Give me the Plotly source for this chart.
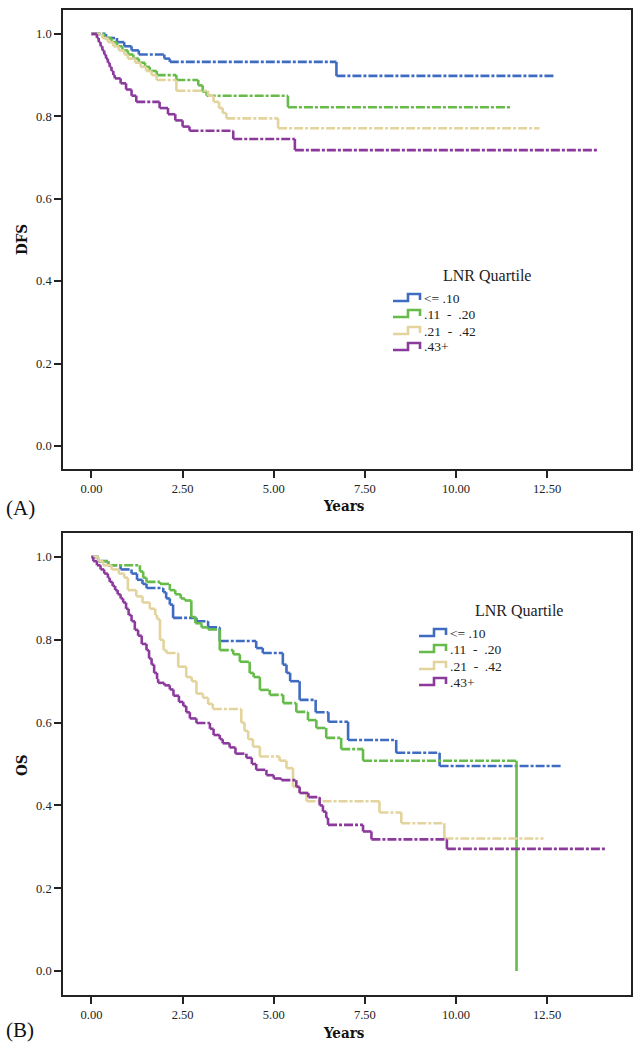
import plotly.graph_objects as go

# ---- Survival step data (time in years, survival probability) ----
groups = ["<= .10", ".11 - .20", ".21 - .42", ".43+"]
group_labels = ["<=\u00a0.10", ".11\u00a0\u00a0-\u00a0\u00a0.20", ".21\u00a0\u00a0-\u00a0\u00a0.42", ".43+"]
colors = ["#3f6cc0", "#66bb4a", "#e3d39c", "#8b3a9c"]

# Disease-free survival
dfs_blue_t = [0, 0.4, 0.7, 0.9, 1.1, 1.3, 2.0, 2.15, 6.72, 12.7]
dfs_blue_s = [1.0, 0.99, 0.98, 0.97, 0.96, 0.95, 0.94, 0.932, 0.898, 0.898]

dfs_green_t = [0, 0.35, 0.55, 0.7, 0.85, 1.0, 1.15, 1.3, 1.47, 1.6, 1.79, 2.33, 2.93, 3.05, 3.16, 5.39, 11.5]
dfs_green_s = [1.0, 0.99, 0.98, 0.97, 0.96, 0.95, 0.94, 0.93, 0.92, 0.91, 0.90, 0.888, 0.875, 0.86, 0.85, 0.822, 0.822]

dfs_tan_t = [0, 0.3, 0.45, 0.6, 0.75, 0.9, 1.0, 1.2, 1.35, 1.5, 1.65, 1.79, 2.33, 3.2, 3.35, 3.5, 3.6, 3.7, 5.12, 12.29]
dfs_tan_s = [1.0, 0.99, 0.98, 0.97, 0.96, 0.95, 0.94, 0.93, 0.92, 0.91, 0.90, 0.888, 0.862, 0.85, 0.835, 0.82, 0.808, 0.795, 0.771, 0.771]

dfs_purple_t = [0, 0.15, 0.2, 0.25, 0.3, 0.35, 0.4, 0.45, 0.5, 0.55, 0.6, 0.64, 0.8, 0.95, 1.1, 1.23, 1.87, 2.1, 2.3, 2.5, 2.69, 3.89, 5.58, 13.88]
dfs_purple_s = [1.0, 0.99, 0.98, 0.97, 0.96, 0.95, 0.94, 0.93, 0.92, 0.91, 0.90, 0.892, 0.88, 0.865, 0.85, 0.835, 0.82, 0.805, 0.79, 0.775, 0.765, 0.745, 0.718, 0.718]

# Overall survival
os_blue_t = [0, 0.2, 0.46, 0.8, 1.1, 1.25, 1.4, 1.51, 1.97, 2.05, 2.15, 2.24, 2.88, 3.2, 3.52, 4.52, 4.7, 5.25, 5.35, 5.45, 5.71, 6.15, 6.5, 7.04, 8.36, 9.55, 12.9]
os_blue_s = [1.0, 0.99, 0.98, 0.97, 0.96, 0.945, 0.935, 0.925, 0.915, 0.9, 0.885, 0.853, 0.845, 0.83, 0.797, 0.78, 0.768, 0.74, 0.72, 0.70, 0.655, 0.625, 0.602, 0.558, 0.527, 0.495, 0.495]

os_green_t = [0, 0.2, 0.46, 1.33, 1.42, 1.51, 1.88, 2.15, 2.3, 2.45, 2.56, 2.74, 2.85, 3.02, 3.2, 3.52, 3.89, 4.07, 4.34, 4.45, 4.62, 4.89, 5.26, 5.62, 5.94, 6.17, 6.44, 6.85, 7.45, 11.66, 11.66]
os_green_s = [1.0, 0.99, 0.98, 0.965, 0.95, 0.94, 0.935, 0.92, 0.91, 0.90, 0.895, 0.855, 0.84, 0.83, 0.825, 0.775, 0.765, 0.747, 0.72, 0.71, 0.679, 0.667, 0.647, 0.626, 0.606, 0.587, 0.563, 0.536, 0.508, 0.508, 0.0]

os_tan_t = [0, 0.2, 0.32, 0.55, 0.75, 0.9, 1.0, 1.23, 1.4, 1.6, 1.75, 1.8, 1.88, 1.98, 2.06, 2.38, 2.6, 2.75, 2.88, 3.06, 3.2, 3.33, 4.11, 4.2, 4.3, 4.43, 4.62, 5.16, 5.35, 5.53, 5.71, 5.9, 7.9, 8.5, 9.68, 12.4]
os_tan_s = [1.0, 0.99, 0.98, 0.97, 0.96, 0.95, 0.92, 0.905, 0.89, 0.875, 0.86, 0.85, 0.80, 0.775, 0.768, 0.735, 0.71, 0.70, 0.67, 0.66, 0.645, 0.633, 0.60, 0.58, 0.56, 0.542, 0.518, 0.508, 0.49, 0.445, 0.43, 0.41, 0.383, 0.357, 0.32, 0.32]

os_purple_t = [0, 0.05, 0.15, 0.25, 0.35, 0.45, 0.5, 0.58, 0.65, 0.72, 0.8, 0.87, 0.95, 1.02, 1.1, 1.19, 1.28, 1.38, 1.51, 1.58, 1.65, 1.72, 1.8, 1.83, 2.0, 2.15, 2.25, 2.4, 2.52, 2.6, 2.7, 2.88, 3.25, 3.35, 3.52, 3.6, 3.79, 3.95, 4.25, 4.4, 4.52, 4.8, 5.0, 5.21, 5.62, 5.71, 5.95, 6.26, 6.35, 6.44, 6.49, 7.45, 7.68, 9.75, 14.1]
os_purple_s = [1.0, 0.99, 0.98, 0.97, 0.96, 0.95, 0.94, 0.93, 0.92, 0.91, 0.90, 0.89, 0.875, 0.86, 0.845, 0.824, 0.81, 0.79, 0.775, 0.755, 0.74, 0.72, 0.705, 0.696, 0.69, 0.68, 0.665, 0.65, 0.64, 0.625, 0.61, 0.599, 0.585, 0.57, 0.56, 0.55, 0.54, 0.525, 0.515, 0.50, 0.486, 0.473, 0.465, 0.461, 0.445, 0.43, 0.42, 0.40, 0.385, 0.37, 0.353, 0.337, 0.318, 0.295, 0.295]

x_ticks = [0, 2.5, 5, 7.5, 10, 12.5]
x_tick_labels = ["0.00", "2.50", "5.00", "7.50", "10.00", "12.50"]
y_ticks = [0, 0.2, 0.4, 0.6, 0.8, 1.0]
y_tick_labels = ["0.0", "0.2", "0.4", "0.6", "0.8", "1.0"]

W, H = 639, 1046
TICK_FONT = dict(family="Liberation Serif", size=12.5, color="#222")
DASH = "9px,2px,3px,2px"
LW = 2.6

fig = go.Figure()


def step_pieces(t, s):
    """Split a KM step curve into horizontal runs and vertical drops."""
    hx, hy, vx, vy = [], [], [], []
    for i in range(len(t) - 1):
        hx += [t[i], t[i + 1], None]
        hy += [s[i], s[i], None]
        if s[i + 1] != s[i]:
            vx += [t[i + 1], t[i + 1], None]
            vy += [s[i], s[i + 1], None]
    return hx, hy, vx, vy


panels = [
    ("x", "y", [(dfs_blue_t, dfs_blue_s), (dfs_green_t, dfs_green_s), (dfs_tan_t, dfs_tan_s), (dfs_purple_t, dfs_purple_s)]),
    ("x2", "y2", [(os_blue_t, os_blue_s), (os_green_t, os_green_s), (os_tan_t, os_tan_s), (os_purple_t, os_purple_s)]),
]
for xa, ya, series in panels:
    for name, col, (t, s) in zip(groups, colors, series):
        hx, hy, vx, vy = step_pieces(t, s)
        fig.add_trace(go.Scatter(
            x=hx, y=hy, mode="lines", name=name, xaxis=xa, yaxis=ya,
            line=dict(color=col, width=LW, dash=DASH), showlegend=False,
        ))
        fig.add_trace(go.Scatter(
            x=vx, y=vy, mode="lines", name=name, xaxis=xa, yaxis=ya,
            line=dict(color=col, width=LW), showlegend=False,
        ))


def px_x(p):
    return p / W


def px_y(p):
    return 1 - p / H


axis_common = dict(
    showline=True, linecolor="#222", linewidth=1.6, mirror=True,
    ticks="outside", ticklen=7, tickwidth=1.6, tickcolor="#222",
    showgrid=False, zeroline=False, tickfont=TICK_FONT,
)
x_dom = [px_x(63), px_x(631)]
fig.update_layout(
    width=W, height=H,
    margin=dict(l=0, r=0, t=0, b=0),
    paper_bgcolor="white", plot_bgcolor="white",
    xaxis=dict(domain=x_dom, range=[-0.78, 14.8], tickvals=x_ticks, ticktext=x_tick_labels, anchor="y", **axis_common),
    yaxis=dict(domain=[px_y(469), px_y(10)], range=[-0.056, 1.058], tickvals=y_ticks, ticktext=y_tick_labels, anchor="x", **axis_common),
    xaxis2=dict(domain=x_dom, range=[-0.78, 14.8], tickvals=x_ticks, ticktext=x_tick_labels, anchor="y2", **axis_common),
    yaxis2=dict(domain=[px_y(995), px_y(533)], range=[-0.058, 1.058], tickvals=y_ticks, ticktext=y_tick_labels, anchor="x2", **axis_common),
)

LABEL_FONT = dict(family="DejaVu Serif Condensed", size=15, color="#111")
annotations = [
    dict(text="<b>DFS</b>", x=px_x(22), y=px_y(240), textangle=-90),
    dict(text="<b>OS</b>", x=px_x(22), y=px_y(765), textangle=-90),
    dict(text="<b>Years</b>", x=px_x(344), y=px_y(506)),
    dict(text="<b>Years</b>", x=px_x(344), y=px_y(1033)),
]
for a in annotations:
    fig.add_annotation(xref="paper", yref="paper", showarrow=False, font=LABEL_FONT,
                       xanchor="center", yanchor="middle", **a)

for txt, yy in [("(A)", 508), ("(B)", 1030)]:
    fig.add_annotation(text=txt, xref="paper", yref="paper", x=px_x(4), y=px_y(yy),
                       xanchor="left", yanchor="middle", showarrow=False,
                       font=dict(family="Liberation Serif", size=21, color="#111"))

# Legends drawn as step glyphs with labels
LEG_FONT = dict(family="Liberation Serif", size=13.5, color="#222")


def draw_legend(sym_x, title_x, title_y, row_ys):
    fig.add_annotation(text="LNR\u00a0Quartile", xref="paper", yref="paper",
                       x=px_x(title_x), y=px_y(title_y), xanchor="left", yanchor="middle",
                       showarrow=False, font=dict(family="Liberation Serif", size=16, color="#222"))
    for label, col, ry in zip(group_labels, colors, row_ys):
        x0, x1, xm = sym_x, sym_x + 27, sym_x + 15
        yl, yh = ry + 3, ry - 4
        path = (f"M {px_x(x0)},{px_y(yl)} L {px_x(xm)},{px_y(yl)} L {px_x(xm)},{px_y(yh)} "
                f"L {px_x(x1)},{px_y(yh)} L {px_x(x1)},{px_y(yl - 1)}")
        fig.add_shape(type="path", path=path, xref="paper", yref="paper",
                      line=dict(color=col, width=2.6))
        fig.add_annotation(text=label, xref="paper", yref="paper",
                           x=px_x(x1 + 2), y=px_y(ry), xanchor="left", yanchor="middle",
                           showarrow=False, font=LEG_FONT)


draw_legend(393, 441, 275, [298, 314, 331, 347])
draw_legend(419, 473, 610, [633, 649, 666, 682])

fig.write_html("out.html")
